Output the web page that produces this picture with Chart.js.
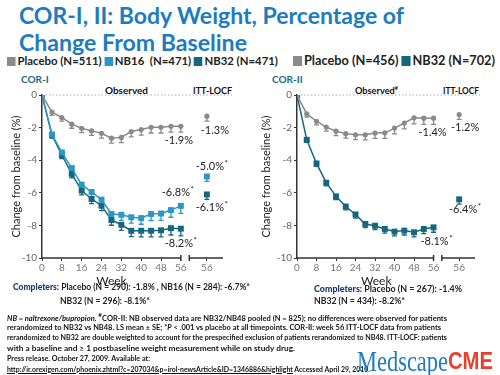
<!DOCTYPE html>
<html>
<head>
<meta charset="utf-8">
<script src="https://cdn.jsdelivr.net/npm/chart.js@4.4.0/dist/chart.umd.min.js"></script>
<style>
  body { margin: 0; width: 500px; height: 375px; background: #fff; position: relative; overflow: hidden; font-family: Lato, 'Open Sans', sans-serif; }
  .t { position: absolute; white-space: nowrap; display: inline-block; transform-origin: 0 0; }
  .title { color: #1d7cc0; font-weight: 700; font-size: 23px; left: 19px; }
  .leg { font-weight: 700; color: #222; }
  .sq { display: inline-block; width: 9px; height: 9px; margin-right: 2px; vertical-align: -1px; }
  .panel { color: #1a6a82; font-weight: 700; font-size: 10px; }
  .hdr { font-weight: 700; font-size: 10px; color: #111; }
  .comp { font-size: 10px; color: #222; font-weight: 700; }
  .comp b { color: #1b3a6e; }
  .foot { font-size: 7.6px; color: #111; font-weight: 700; left: 7px; }
  canvas { position: absolute; top: 80px; }
</style>
</head>
<body>
<div class="t title" style="top:1px" data-w="385">COR-I, II: Body Weight, Percentage of</div>
<div class="t title" style="top:28px" data-w="228">Change From Baseline</div>

<div class="t leg" style="left:7px;top:53px;font-size:12px" data-w="271"><span class="sq" style="background:#8a8a8a"></span>Placebo (N=511) <span class="sq" style="background:#2a97c9"></span>NB16&nbsp; (N=471) <span class="sq" style="background:#15677f"></span>NB32 (N=471)</div>
<div class="t leg" style="left:293px;top:51px;font-size:14px" data-w="202"><span class="sq" style="background:#8a8a8a;width:10px;height:10px"></span>Placebo (N=456) <span class="sq" style="background:#15677f;width:10px;height:10px"></span>NB32 (N=702)</div>

<div class="t panel" style="left:21px;top:73px">COR-I</div>
<div class="t panel" style="left:272px;top:73px">COR-II</div>
<div class="t hdr" style="left:105px;top:84px" data-w="43">Observed</div>
<div class="t hdr" style="left:193px;top:84px" data-w="39">ITT-LOCF</div>
<div class="t hdr" style="left:355px;top:84px" data-w="43">Observed<sup style="font-size:6px">#</sup></div>
<div class="t hdr" style="left:443px;top:84px" data-w="36">ITT-LOCF</div>

<canvas id="cor1" width="245" height="210" style="left:0"></canvas>
<canvas id="cor2" width="250" height="210" style="left:250px"></canvas>

<div class="t comp" style="left:13px;top:280px" data-w="237"><b>Completers:</b> Placebo (N = 290): -1.8% , NB16 (N = 284): -6.7%*</div>
<div class="t comp" style="left:60px;top:294px" data-w="90">NB32 (N = 296): -8.1%*</div>
<div class="t comp" style="left:314px;top:282px" data-w="148"><b>Completers:</b> Placebo (N = 267): -1.4%</div>
<div class="t comp" style="left:314px;top:294px" data-w="91">NB32 (N = 434): -8.2%*</div>

<div class="t foot" style="top:311px" data-w="440"><i>NB = naltrexone/bupropion.</i> <sup>#</sup>COR-II: NB observed data are NB32/NB48 pooled (N = 825); no differences were observed for patients</div>
<div class="t foot" style="top:321.5px" data-w="434">rerandomized to NB32 vs NB48. LS mean ± SE; *<i>P</i> &lt; .001 vs placebo at all timepoints. COR-II: week 56 ITT-LOCF data from patients</div>
<div class="t foot" style="top:332px" data-w="440">rerandomized to NB32 are double weighted to account for the prespecified exclusion of patients rerandomized to NB48. ITT-LOCF: patients</div>
<div class="t foot" style="top:342.5px" data-w="288">with a baseline and ≥ 1 postbaseline weight measurement while on study drug.</div>
<div class="t foot" style="top:353px" data-w="143">Press release. October 27, 2009. Available at:</div>
<div class="t foot" style="top:363.5px" data-w="363"><u>http://ir.orexigen.com/phoenix.zhtml?c=207034&amp;p=irol-newsArticle&amp;ID=1346886&amp;highlight</u> Accessed April 29, 2010.</div>

<div class="t" style="left:357px;top:345px;font-family:'Liberation Serif',serif;font-size:29px;color:#1d7cc0" data-w="91">Medscape</div>
<div class="t" style="left:448px;top:348px;font-family:'Liberation Sans',sans-serif;font-weight:700;font-size:23px;color:#e8402e" data-w="45">CME</div>

<script>
// weeks of the observed visits, and where the separate ITT-LOCF week-56 point sits on the axis
const weeks = [0, 4, 8, 12, 16, 20, 24, 28, 32, 36, 40, 44, 48, 52, 56];
const ittWeek = 66.5;
const xTicks = [0, 8, 16, 24, 32, 40, 48, 56, 66.5];
const yTicks = [0, -2, -4, -6, -8, -10];

// COR-I, mean % change (observed)
const cor1Placebo = [0, -1.05, -1.38, -1.79, -2.04, -2.2, -2.35, -2.65, -2.6, -2.24, -2.12, -1.98, -1.98, -1.92, -1.92];
const cor1NB16 = [0, -2.42, -3.52, -4.48, -5.5, -5.95, -6.42, -7.3, -7.35, -7.5, -7.55, -7.3, -7.27, -7.06, -6.8];
const cor1NB32 = [0, -2.45, -3.68, -4.84, -5.86, -6.38, -6.79, -7.67, -7.96, -8.33, -8.33, -8.33, -8.3, -8.17, -8.2];
// SE (drawn downward only)
const cor1PlaceboSE = [0, 0.2, 0.22, 0.25, 0.27, 0.28, 0.3, 0.3, 0.32, 0.33, 0.34, 0.35, 0.35, 0.36, 0.36];
const cor1NB16SE = [0, 0.2, 0.22, 0.25, 0.27, 0.29, 0.3, 0.32, 0.34, 0.36, 0.38, 0.4, 0.42, 0.44, 0.46];
const cor1NB32SE = [0, 0.2, 0.22, 0.25, 0.27, 0.29, 0.3, 0.32, 0.34, 0.36, 0.37, 0.38, 0.4, 0.42, 0.44];
// COR-I, ITT-LOCF week 56
const cor1Itt = { placebo: -1.3, nb16: -5.0, nb32: -6.1 };

// COR-II
const cor2Placebo = [0, -1.16, -1.61, -1.97, -2.22, -2.37, -2.44, -2.44, -2.33, -2.32, -2.03, -1.72, -1.4, -1.42, -1.42];
const cor2NB32 = [0, -2.75, -4.2, -5.38, -6.22, -6.84, -7.33, -7.91, -8.02, -8.22, -8.38, -8.32, -8.42, -8.22, -8.12];
const cor2PlaceboSE = [0, 0.2, 0.22, 0.25, 0.27, 0.28, 0.3, 0.31, 0.33, 0.34, 0.35, 0.36, 0.37, 0.38, 0.38];
const cor2NB32SE = [0, 0.15, 0.17, 0.19, 0.2, 0.21, 0.22, 0.23, 0.24, 0.25, 0.26, 0.27, 0.28, 0.29, 0.3];
const cor2Itt = { placebo: -1.2, nb32: -6.4 };

const GREY = '#8a8a8a', NB16 = '#2a97c9', NB32 = '#15677f';

function pts(vals) { return vals.map((v, i) => ({ x: weeks[i], y: v })); }

function lineSet(vals, se, color, shape) {
    return {
        data: pts(vals), se: se,
        borderColor: color, backgroundColor: color, borderWidth: 1.5,
        pointStyle: shape, pointRadius: shape === 'circle' ? 2.6 : 4.2,
        pointBorderWidth: 0, tension: 0
    };
}

function ittSet(v, color, shape) {
    return {
        data: [{ x: ittWeek, y: v }], se: [0.3],
        borderColor: color, backgroundColor: color, showLine: false,
        pointStyle: shape, pointRadius: shape === 'circle' ? 2.6 : 4.2, pointBorderWidth: 0
    };
}

// dotted zero line, broken x axis, downward SE bars, value labels, "Week"
const extras = {
    id: 'extras',
    beforeDatasetsDraw(chart) {
        const { ctx, chartArea, scales: { x, y } } = chart;
        const opt = chart.options.plugins.extras;
        ctx.save();
        // zero reference line
        ctx.strokeStyle = '#aaa';
        ctx.lineWidth = 1;
        ctx.setLineDash([1.5, 2]);
        ctx.beginPath();
        ctx.moveTo(x.getPixelForValue(0), y.getPixelForValue(0));
        ctx.lineTo(chartArea.right + opt.zeroExtra, y.getPixelForValue(0));
        ctx.stroke();
        ctx.setLineDash([]);

        // broken axis
        const yb = chartArea.bottom;
        ctx.strokeStyle = '#333';
        ctx.lineWidth = 1.5;
        ctx.beginPath();
        ctx.moveTo(x.getPixelForValue(0), yb);
        ctx.lineTo(x.getPixelForValue(56), yb);
        ctx.moveTo(x.getPixelForValue(56), yb - 3);
        ctx.lineTo(x.getPixelForValue(56), yb + 3);
        ctx.moveTo(x.getPixelForValue(59.4), yb - 3);
        ctx.lineTo(x.getPixelForValue(59.4), yb + 3);
        ctx.moveTo(x.getPixelForValue(59.4), yb);
        ctx.lineTo(x.getPixelForValue(73), yb);
        ctx.stroke();

        // error bars
        chart.data.datasets.forEach((ds, i) => {
            const meta = chart.getDatasetMeta(i);
            ctx.strokeStyle = ds.borderColor;
            ctx.lineWidth = 1.3;
            ds.data.forEach((p, j) => {
                const se = ds.se[j];
                if (!se) return;
                const px = meta.data[j].x, py = meta.data[j].y;
                const pb = y.getPixelForValue(p.y - se);
                ctx.beginPath();
                ctx.moveTo(px, py);
                ctx.lineTo(px, pb);
                ctx.moveTo(px - 2.5, pb);
                ctx.lineTo(px + 2.5, pb);
                ctx.stroke();
            });
        });
        ctx.restore();
    },
    afterDraw(chart) {
        const { ctx, chartArea, scales: { x, y } } = chart;
        const opt = chart.options.plugins.extras;
        ctx.save();
        ctx.fillStyle = '#222';
        ctx.textAlign = 'center';
        ctx.textBaseline = 'middle';
        opt.labels.forEach(l => {
            const el = chart.getDatasetMeta(l.ds).data[l.i];
            const tx = el.x + l.dx, ty = el.y + l.dy;
            ctx.font = '11px Lato, sans-serif';
            ctx.fillText(l.text, tx, ty);
            if (l.star) {
                const w = ctx.measureText(l.text).width;
                ctx.font = '8px Lato, sans-serif';
                ctx.textAlign = 'left';
                ctx.fillText('*', tx + w / 2 + 0.5, ty - 3);
                ctx.textAlign = 'center';
            }
        });
        ctx.font = '12px Lato, sans-serif';
        ctx.fillText('Week', x.getPixelForValue(opt.weekAt), chartArea.bottom + 23);
        ctx.restore();
    }
};

function makeOptions(yWidth, padRight, labels, weekAt, zeroExtra) {
    return {
        responsive: false,
        animation: false,
        layout: { padding: { top: 15, right: padRight, left: 0, bottom: 0 } },
        plugins: {
            legend: { display: false },
            tooltip: { enabled: false },
            extras: { labels: labels, weekAt: weekAt, zeroExtra: zeroExtra }
        },
        scales: {
            x: {
                type: 'linear', min: 0, max: 73,
                afterBuildTicks: s => { s.ticks = xTicks.map(v => ({ value: v })); },
                afterFit: s => { s.height = 32; },
                border: { display: false },
                grid: { drawOnChartArea: false, tickLength: 3, color: '#333', lineWidth: 1 },
                ticks: {
                    color: '#777', font: { size: 10, family: 'Lato' }, padding: 1,
                    maxRotation: 0, autoSkip: false,
                    callback: v => (v === ittWeek ? '56' : String(v))
                }
            },
            y: {
                min: -10, max: 0,
                afterBuildTicks: s => { s.ticks = yTicks.map(v => ({ value: v })); },
                afterFit: s => { s.width = yWidth; },
                border: { display: true, color: '#333', width: 1.5 },
                grid: { drawOnChartArea: false, tickLength: 3, color: '#333' },
                ticks: { color: '#666', font: { size: 10, family: 'Lato' }, padding: 2 },
                title: {
                    display: true, text: 'Change from baseline (%)', color: '#222',
                    font: { size: 11, family: 'Lato' }, padding: { top: 10, bottom: 0 }
                }
            }
        }
    };
}

document.fonts.ready.then(() => {
    document.querySelectorAll('[data-w]').forEach(el => {
        const r = el.getBoundingClientRect().width;
        el.style.transform = `scaleX(${(+el.dataset.w) / r})`;
    });

    new Chart(document.getElementById('cor1'), {
        type: 'line',
        data: {
            datasets: [
                lineSet(cor1Placebo, cor1PlaceboSE, GREY, 'circle'),
                lineSet(cor1NB16, cor1NB16SE, NB16, 'rect'),
                lineSet(cor1NB32, cor1NB32SE, NB32, 'rect'),
                ittSet(cor1Itt.placebo, GREY, 'circle'),
                ittSet(cor1Itt.nb16, NB16, 'rect'),
                ittSet(cor1Itt.nb32, NB32, 'rect')
            ]
        },
        options: makeOptions(42, 22, [
            { ds: 0, i: 14, text: '-1.9%', dx: -2, dy: 14 },
            { ds: 3, i: 0, text: '-1.3%', dx: 8, dy: 14 },
            { ds: 4, i: 0, text: '-5.0%', dx: 3, dy: -10, star: true },
            { ds: 1, i: 14, text: '-6.8%', dx: -5, dy: -13, star: true },
            { ds: 5, i: 0, text: '-6.1%', dx: 3, dy: 13, star: true },
            { ds: 2, i: 14, text: '-8.2%', dx: -2, dy: 15, star: true }
        ], 28, 9),
        plugins: [extras]
    });

    new Chart(document.getElementById('cor2'), {
        type: 'line',
        data: {
            datasets: [
                lineSet(cor2Placebo, cor2PlaceboSE, GREY, 'circle'),
                lineSet(cor2NB32, cor2NB32SE, NB32, 'rect'),
                ittSet(cor2Itt.placebo, GREY, 'circle'),
                ittSet(cor2Itt.nb32, NB32, 'rect')
            ]
        },
        options: makeOptions(47, 25, [
            { ds: 0, i: 14, text: '-1.4%', dx: -1, dy: 14 },
            { ds: 2, i: 0, text: '-1.2%', dx: 6, dy: 13 },
            { ds: 3, i: 0, text: '-6.4%', dx: 4, dy: 10, star: true },
            { ds: 1, i: 14, text: '-8.1%', dx: 1, dy: 14, star: true }
        ], 32.5, 5),
        plugins: [extras]
    });
});
</script>
</body>
</html>
